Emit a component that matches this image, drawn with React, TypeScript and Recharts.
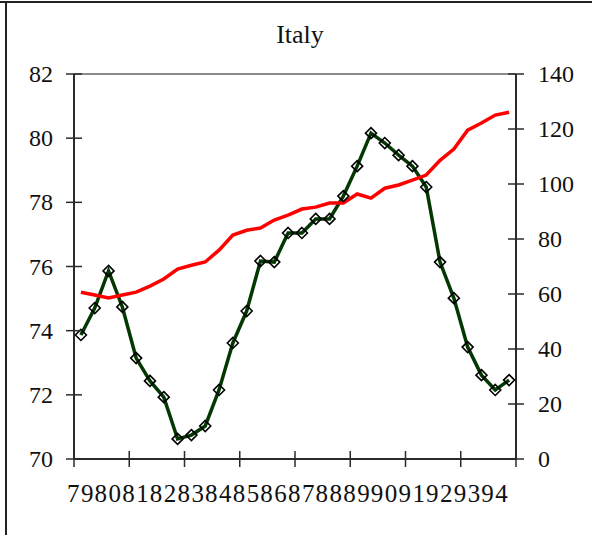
import React from "react";
import { LineChart, Line, XAxis, YAxis, ReferenceLine } from "recharts";

const years = ["79", "80", "81", "82", "83", "84", "85", "86", "87", "88", "89", "90", "91", "92", "93", "94"];

// half-yearly readings, left axis
const lifeExpectancy = [
  75.2, 75.11, 75.02, 75.11, 75.2, 75.39, 75.61, 75.92, 76.04, 76.14, 76.51, 76.98,
  77.13, 77.2, 77.45, 77.6, 77.79, 77.85, 77.98, 77.98, 78.26, 78.13, 78.44, 78.54,
  78.69, 78.85, 79.31, 79.66, 80.25, 80.47, 80.72, 80.81,
];

// half-yearly readings, right axis
const indexValues = [
  45.1, 54.9, 68.4, 55.3, 36.7, 28.4, 22.5, 7.3, 8.7, 12.0, 25.1, 42.2,
  53.8, 72.0, 71.6, 82.2, 82.2, 87.3, 87.3, 95.6, 106.5, 118.5, 114.9, 110.5,
  106.5, 98.9, 71.6, 58.5, 40.7, 30.5, 25.1, 28.7,
];

const leftTicks = [70, 72, 74, 76, 78, 80, 82];
const rightTicks = [0, 20, 40, 60, 80, 100, 120, 140];

const data = lifeExpectancy.map((v, i) => ({
  x: i + 0.5,
  life: v,
  index: indexValues[i],
}));

const boundaryTicks = [0, 4, 8, 12, 16, 20, 24, 28, 32];
const labelTicks = years.map((_, k) => k * 2 + 0.5);
const xTicks = [...boundaryTicks, ...labelTicks].sort((a, b) => a - b);

const FONT = "'Liberation Serif', 'DejaVu Serif', serif";
const AXIS = "#2b2b2b";

const XTick = (props: any) => {
  const { x, y, payload } = props;
  const v = payload.value;
  if (Number.isInteger(v)) {
    return <line x1={x} x2={x} y1={y - 16} y2={y} stroke={AXIS} strokeWidth={1.5} />;
  }
  const label = years[(v - 0.5) / 2];
  return (
    <text x={x} y={y + 35} textAnchor="middle" fontFamily={FONT} fontSize={25} letterSpacing={1.5} fill="#111">
      {label}
    </text>
  );
};

const LeftTick = (props: any) => {
  const { x, y, payload } = props;
  return (
    <g>
      <line x1={x} x2={x + 16} y1={y} y2={y} stroke={AXIS} strokeWidth={1.5} />
      <text x={x - 13} y={y + 8} textAnchor="end" fontFamily={FONT} fontSize={24} fill="#111">
        {payload.value}
      </text>
    </g>
  );
};

const RightTick = (props: any) => {
  const { x, y, payload } = props;
  return (
    <g>
      <line x1={x - 16} x2={x} y1={y} y2={y} stroke={AXIS} strokeWidth={1.5} />
      <text x={x + 14} y={y + 8} textAnchor="start" fontFamily={FONT} fontSize={24} fill="#111">
        {payload.value}
      </text>
    </g>
  );
};

const Diamond = (props: any) => {
  const { cx, cy } = props;
  if (cx == null || cy == null) return null;
  const r = 5.5;
  return (
    <polygon
      points={`${cx},${cy - r} ${cx + r},${cy} ${cx},${cy + r} ${cx - r},${cy}`}
      fill="none"
      stroke="#000"
      strokeWidth={1.6}
    />
  );
};

export default function App() {
  return (
    <div style={{ position: "absolute", left: 0, top: 0, width: 592, height: 535, background: "#fff", overflow: "hidden" }}>
      <div style={{ position: "absolute", left: 0, top: 1, width: 592, height: 2, background: "#222" }} />
      <div style={{ position: "absolute", left: 5, top: 1, width: 2, height: 534, background: "#222" }} />
      <div
        style={{
          position: "absolute",
          left: 8,
          width: 584,
          top: 20,
          textAlign: "center",
          fontFamily: FONT,
          fontSize: 26,
          color: "#111",
        }}
      >
        Italy
      </div>
      <LineChart
        width={592}
        height={535}
        data={data}
        margin={{ top: 74, right: 16, bottom: 26, left: 14 }}
      >
        <XAxis
          dataKey="x"
          type="number"
          domain={[0, 32]}
          ticks={xTicks}
          interval={0}
          tick={<XTick />}
          tickLine={false}
          tickSize={8}
          tickMargin={0}
          height={50}
          axisLine={{ stroke: AXIS, strokeWidth: 2 }}
        />
        <YAxis
          yAxisId="left"
          orientation="left"
          domain={[70, 82]}
          ticks={leftTicks}
          interval={0}
          width={60}
          tick={<LeftTick />}
          tickLine={false}
          tickSize={8}
          tickMargin={0}
          axisLine={{ stroke: AXIS, strokeWidth: 2 }}
        />
        <YAxis
          yAxisId="right"
          orientation="right"
          domain={[0, 140]}
          ticks={rightTicks}
          interval={0}
          width={60}
          tick={<RightTick />}
          tickLine={false}
          tickSize={8}
          tickMargin={0}
          axisLine={{ stroke: AXIS, strokeWidth: 2 }}
        />
        <ReferenceLine yAxisId="left" y={82} stroke="#8a8a8a" strokeWidth={2} />
        <Line
          yAxisId="right"
          dataKey="index"
          type="linear"
          stroke="#033803"
          strokeWidth={3.5}
          dot={<Diamond />}
          activeDot={false}
          isAnimationActive={false}
        />
        <Line
          yAxisId="left"
          dataKey="life"
          type="linear"
          stroke="#ff0000"
          strokeWidth={3.5}
          dot={false}
          activeDot={false}
          isAnimationActive={false}
        />
      </LineChart>
    </div>
  );
}
